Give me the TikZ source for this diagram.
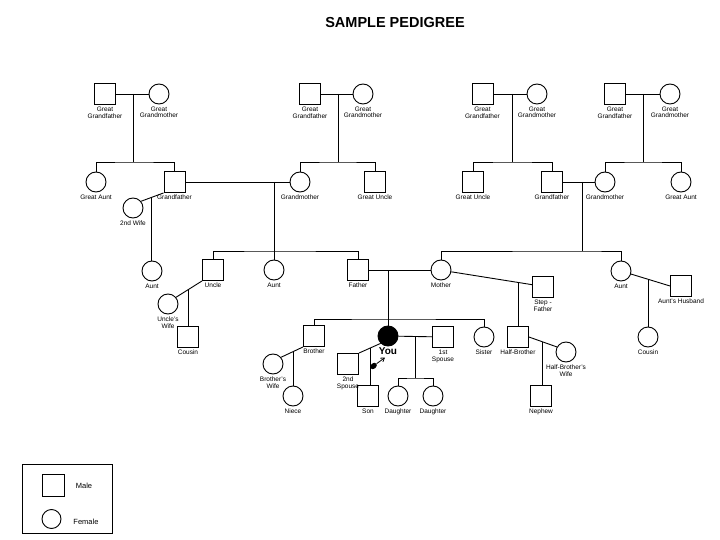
\documentclass[tikz,border=0pt]{standalone}
\usepackage{fontspec}
\setmainfont{Liberation Sans}
\usetikzlibrary{arrows.meta,calc,shapes.geometric}
\begin{document}
\begin{tikzpicture}[x=1pt,y=-1pt,
  male/.style={draw,rectangle,minimum size=21pt,inner sep=0pt,line width=0.9pt},
  female/.style={draw,circle,minimum size=20pt,inner sep=0pt,line width=0.9pt},
  lbl/.style={font=\fontsize{6.5}{6.8}\selectfont,inner sep=0pt,align=center},
  label distance=2pt,
  ln/.style={line width=0.9pt},
  every label/.style={lbl}]
\useasboundingbox (0,0) rectangle (720,540);
\node[font=\fontsize{14.5}{16}\selectfont\bfseries] (title) at (395,23) {SAMPLE PEDIGREE};

% great-grandparents
\node[male,label=below:Great\\Grandfather] (ggf1) at (105,94) {};
\node[female,label=below:Great\\Grandmother] (ggm1) at (159,94) {};
\node[male,label=below:Great\\Grandfather] (ggf2) at (310,94) {};
\node[female,label=below:Great\\Grandmother] (ggm2) at (363,94) {};
\node[male,label=below:Great\\Grandfather] (ggf3) at (482.5,94) {};
\node[female,label=below:Great\\Grandmother] (ggm3) at (537,94) {};
\node[male,label=below:Great\\Grandfather] (ggf4) at (615,94) {};
\node[female,label=below:Great\\Grandmother] (ggm4) at (670,94) {};

% grandparents row
\node[female,label=below:Great Aunt] (gaunt1) at (96,182) {};
\node[male,label=below:Grandfather] (gf1) at (174.5,182) {};
\node[female,label=below:Grandmother] (gm1) at (300,182) {};
\node[male,label=below:Great Uncle] (guncle1) at (375,182) {};
\node[male,label=below:Great Uncle] (guncle2) at (473,182) {};
\node[male,label=below:Grandfather] (gf2) at (552,182) {};
\node[female,label=below:Grandmother] (gm2) at (605,182) {};
\node[female,label=below:Great Aunt] (gaunt2) at (681,182) {};
\node[female,label=below:2nd Wife] (wife2) at (133,208) {};

% parents row
\node[female,label=below:Aunt] (aunt1) at (152,271) {};
\node[male,label=below:Uncle] (uncle) at (213,270) {};
\node[female,label=below:Aunt] (aunt2) at (274,270) {};
\node[male,label=below:Father] (father) at (358,270) {};
\node[female,label=below:Mother] (mother) at (441,270) {};
\node[female,label=below:Aunt] (aunt3) at (621,271) {};
\node[male,label=below:Step -\\Father] (stepf) at (543,287) {};
\node[male,label=below:Aunt's Husband] (auhus) at (681,286) {};
\node[female,label=below:Uncle's\\Wife] (uwife) at (168,304) {};
\node[male,label=below:Cousin] (cousin1) at (188,337) {};
\node[female,label=below:Cousin] (cousin2) at (648,337) {};

% own generation
\node[male,label=below:Brother] (brother) at (314,336) {};
\node[female,fill=black,label={[font=\fontsize{10}{12}\selectfont\bfseries,label distance=1pt]below:You}] (you) at (388,336) {};
\node[male,label=below:1st\\Spouse] (sp1) at (443,337) {};
\node[female,label=below:Sister] (sister) at (484,337) {};
\node[male,label=below:Half-Brother] (hbro) at (518,337) {};
\node[female,label=below:Half-Brother's\\Wife] (hbwife) at (566,352) {};
\node[female,label=below:Brother's\\Wife] (bwife) at (273,364) {};
\node[male,label=below:2nd\\Spouse] (sp2) at (348,364) {};

% children
\node[female,label=below:Niece] (niece) at (293,396) {};
\node[male,label=below:Son] (son) at (368,396) {};
\node[female,label=below:Daughter] (dau1) at (398,396) {};
\node[female,label=below:Daughter] (dau2) at (433,396) {};
\node[male,label=below:Nephew] (nephew) at (541,396) {};

% symbol near You
\node[fill=black,ellipse,inner sep=0pt,minimum width=7.5pt,minimum height=5.5pt,rotate=40] (blob) at (373.5,366) {};
\coordinate (atip) at (385,357.5);
\draw[line width=0.8pt,-{Straight Barb[length=3.5pt,width=4.5pt]}] (blob) -- (atip);

% great-grandparent couples and their children
\coordinate (m1) at (133,94);   \coordinate (s1) at (133,162);
\draw[ln] (ggf1) -- (ggm1); \draw[ln] (m1) -- (s1);
\draw[ln] (gaunt1.north) |- (s1) -| (gf1.north);
\coordinate (m2) at (338,94);   \coordinate (s2) at (338,162);
\draw[ln] (ggf2) -- (ggm2); \draw[ln] (m2) -- (s2);
\draw[ln] (gm1.north) |- (s2) -| (guncle1.north);
\coordinate (m3) at (512,94);   \coordinate (s3) at (512,162);
\draw[ln] (ggf3) -- (ggm3); \draw[ln] (m3) -- (s3);
\draw[ln] (guncle2.north) |- (s3) -| (gf2.north);
\coordinate (m4) at (643,94);   \coordinate (s4) at (643,162);
\draw[ln] (ggf4) -- (ggm4); \draw[ln] (m4) -- (s4);
\draw[ln] (gm2.north) |- (s4) -| (gaunt2.north);

% grandparents
\coordinate (m5) at (274,182);  \coordinate (s5) at (274,251);
\draw[ln] (gf1) -- (gm1); \draw[ln] (m5) -- (aunt2.north);
\draw[ln] (uncle.north) |- (s5) -| (father.north);
\draw[ln] (gf1.south west) -- coordinate[pos=0.55] (m6) (wife2.40);
\draw[ln] (m6) -- (m6 |- aunt1.north);
\coordinate (m7) at (582,182);  \coordinate (s7) at (582,251);
\draw[ln] (gf2) -- (gm2); \draw[ln] (m7) -- (s7);
\draw[ln] (mother.north) |- (s7) -| (aunt3.north);

% parents generation
\draw[ln] (uncle.south west) -- coordinate[pos=0.54] (m8) (uwife.40);
\draw[ln] (m8) -- (m8 |- cousin1.north);
\coordinate (m9) at (388,270);  \coordinate (s9) at (388,319);
\draw[ln] (father) -- (mother); \draw[ln] (m9) -- (you.north);
\draw[ln] (brother.north) |- (s9) -| (sister.north);
\draw[ln] (mother.-10) -- coordinate[pos=0.83] (m10) (stepf.168);
\draw[ln] (m10) -- (m10 |- hbro.north);
\draw[ln] (aunt3.-17) -- coordinate[pos=0.44] (m11) (auhus.west);
\draw[ln] (m11) -- (m11 |- cousin2.north);

% own generation
\draw[ln] (brother.south west) -- coordinate[pos=0.43] (m12) (bwife.40);
\draw[ln] (m12) -- (m12 |- niece.north);
\draw[ln] (you.225) -- coordinate[pos=0.47] (m13) (sp2.north east);
\draw[ln] (m13) -- (m13 |- son.north);
\coordinate (m14) at (415,336); \coordinate (s14) at (415,378);
\draw[ln] (you) -- (sp1); \draw[ln] (m14) -- (s14);
\draw[ln] (dau1.north) |- (s14) -| (dau2.north);
\draw[ln] (hbro.east) -- coordinate[pos=0.48] (m15) (hbwife.151);
\draw[ln] (m15) -- (m15 |- nephew.north);

% legend
\node[draw,line width=0.9pt,minimum width=90pt,minimum height=69pt,inner sep=0pt] (legend) at (67,498.5) {};
\node[male,minimum size=22pt] (lmale) at (53.5,485.5) {};
\node[female,minimum size=19pt] (lfemale) at (51.5,519) {};
\node[font=\fontsize{7.5}{9}\selectfont,inner sep=0pt] (tmale) at (84,486) {Male};
\node[font=\fontsize{7.5}{9}\selectfont,inner sep=0pt] (tfemale) at (86,522) {Female};
\end{tikzpicture}
\end{document}
